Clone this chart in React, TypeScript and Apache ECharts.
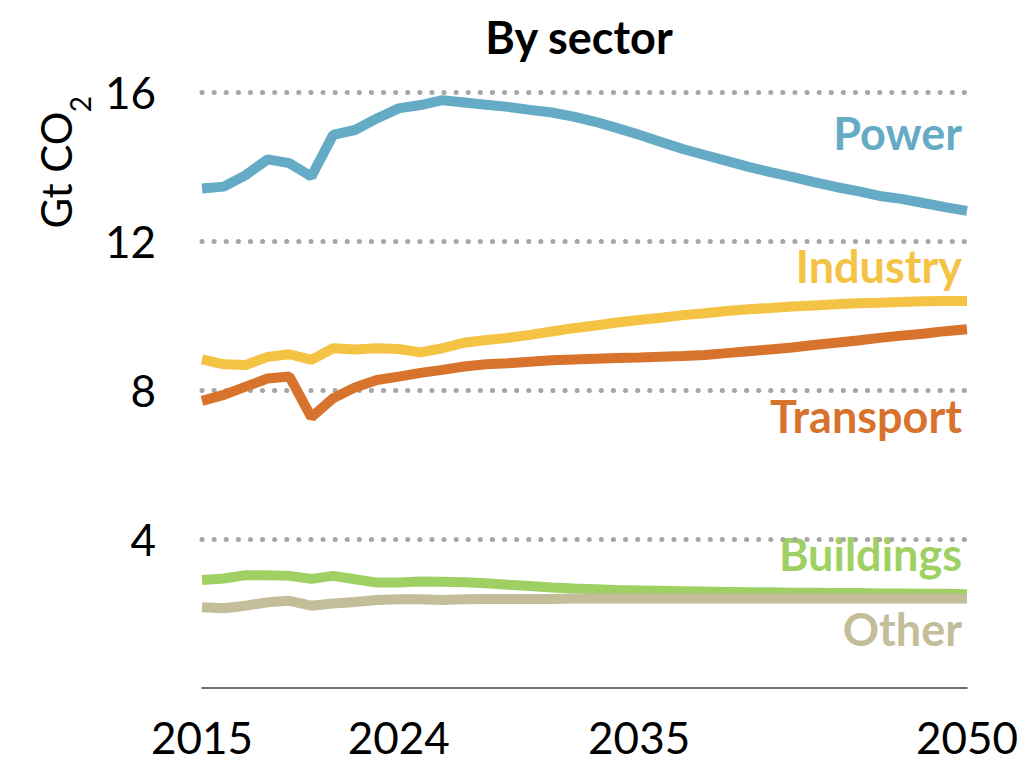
import { useEffect, useRef } from 'react';
import * as echarts from 'echarts';

const years = [
  '2015', '2016', '2017', '2018', '2019', '2020', '2021', '2022', '2023', '2024', '2025', '2026',
  '2027', '2028', '2029', '2030', '2031', '2032', '2033', '2034', '2035', '2036', '2037', '2038',
  '2039', '2040', '2041', '2042', '2043', '2044', '2045', '2046', '2047', '2048', '2049', '2050',
];
const shownYears = ['2015', '2024', '2035', '2050'];
const yTicks = [4, 8, 12, 16];

const power = [
  13.41, 13.46, 13.77, 14.19, 14.09, 13.73, 14.85, 14.98, 15.29, 15.56, 15.65, 15.78,
  15.72, 15.66, 15.6, 15.52, 15.45, 15.34, 15.2, 15.03, 14.85, 14.66, 14.47, 14.31,
  14.15, 13.99, 13.85, 13.72, 13.58, 13.45, 13.34, 13.21, 13.13, 13.02, 12.91, 12.81,
];
const industry = [
  8.82, 8.69, 8.67, 8.89, 8.96, 8.81, 9.12, 9.09, 9.12, 9.1, 9.01, 9.12,
  9.27, 9.34, 9.4, 9.48, 9.57, 9.66, 9.73, 9.81, 9.88, 9.94, 10.01, 10.06,
  10.12, 10.17, 10.2, 10.24, 10.27, 10.3, 10.33, 10.34, 10.36, 10.38, 10.39, 10.39,
];
const transport = [
  7.71, 7.87, 8.09, 8.31, 8.36, 7.27, 7.78, 8.07, 8.27, 8.36, 8.46, 8.54,
  8.63, 8.69, 8.72, 8.76, 8.8, 8.82, 8.84, 8.86, 8.87, 8.89, 8.91, 8.94,
  8.99, 9.04, 9.09, 9.14, 9.21, 9.27, 9.33, 9.4, 9.46, 9.51, 9.58, 9.63,
];
const buildings = [
  2.9, 2.94, 3.03, 3.03, 3.01, 2.93, 3.01, 2.92, 2.83, 2.83, 2.86, 2.85,
  2.84, 2.81, 2.77, 2.74, 2.7, 2.67, 2.65, 2.63, 2.62, 2.61, 2.6, 2.59,
  2.58, 2.57, 2.57, 2.56, 2.56, 2.55, 2.55, 2.54, 2.54, 2.53, 2.53, 2.52,
];
const other = [
  2.17, 2.14, 2.21, 2.3, 2.34, 2.21, 2.27, 2.31, 2.36, 2.38, 2.38, 2.36,
  2.38, 2.39, 2.39, 2.39, 2.39, 2.4, 2.4, 2.4, 2.4, 2.4, 2.4, 2.4,
  2.4, 2.4, 2.4, 2.4, 2.4, 2.4, 2.4, 2.4, 2.4, 2.4, 2.4, 2.4,
];

const sectorNames = ['Power', 'Industry', 'Transport', 'Buildings', 'Other'];
const sectorColors = ['#65ABC6', '#F5C344', '#D8732E', '#9FD064', '#C4BD99'];

export default function App() {
  const ref = useRef<HTMLDivElement>(null);
  useEffect(() => {
    const chart = echarts.init(ref.current!, null, { renderer: 'svg' });
    const FONT = 'Lato';
    const seriesData = [power, industry, transport, buildings, other];
    const labelPos: [number, number][] = [
      [962, 133],
      [962, 266],
      [962, 416],
      [962, 554],
      [962, 629],
    ];
    chart.setOption({
      animation: false,
      grid: { left: 202, right: 57, top: 92, bottom: 75 },
      xAxis: {
        type: 'category',
        data: years,
        boundaryGap: false,
        axisLine: { lineStyle: { color: '#404040', width: 1.5 } },
        axisTick: { show: false },
        splitLine: { show: false },
        axisLabel: {
          interval: (_i: number, v: string) => shownYears.includes(v),
          fontFamily: FONT,
          fontSize: 44,
          lineHeight: 40,
          color: '#000',
          margin: 29,
        },
      },
      yAxis: {
        type: 'value',
        min: 0,
        max: 16,
        interval: 4,
        axisLine: { show: false },
        axisTick: { show: false },
        splitLine: { show: false },
        axisLabel: {
          formatter: (v: number) => (v === 0 ? '' : String(v)),
          fontFamily: FONT,
          fontSize: 44,
          color: '#000',
          margin: 46,
        },
      },
      series: [
        {
          type: 'line',
          data: [],
          silent: true,
          z: 1,
          markLine: {
            silent: true,
            z: 1,
            symbol: 'none',
            label: { show: false },
            lineStyle: { color: '#A6A6A6', width: 5, type: [0.1, 12], cap: 'round' },
            data: yTicks.map((v) => ({ yAxis: v })),
          },
        },
        ...sectorNames.map((name, i) => ({
          type: 'line',
          name,
          data: seriesData[i],
          symbol: 'none',
          z: 3,
          lineStyle: { color: sectorColors[i], width: 10 },
          itemStyle: { color: sectorColors[i] },
        })),
      ],
      graphic: [
        {
          type: 'text',
          x: 579,
          y: 37,
          style: {
            text: 'By sector',
            fontFamily: FONT,
            fontWeight: 'bold',
            fontSize: 45,
            fill: '#000',
            align: 'center',
            verticalAlign: 'middle',
          },
        },
        {
          type: 'text',
          x: 56,
          y: 170,
          rotation: Math.PI / 2,
          style: {
            text: 'Gt CO',
            fontFamily: FONT,
            fontSize: 42,
            fill: '#000',
            align: 'center',
            verticalAlign: 'middle',
          },
        },
        {
          type: 'text',
          x: 80,
          y: 104,
          rotation: Math.PI / 2,
          style: {
            text: '2',
            fontFamily: FONT,
            fontSize: 28,
            fill: '#000',
            align: 'center',
            verticalAlign: 'middle',
          },
        },
        ...sectorNames.map((name, i) => ({
          type: 'text',
          x: labelPos[i][0],
          y: labelPos[i][1],
          style: {
            text: name,
            fontFamily: FONT,
            fontWeight: 'bold',
            fontSize: 45,
            fill: sectorColors[i],
            align: 'right',
            verticalAlign: 'middle',
          },
        })),
      ],
    });
    return () => chart.dispose();
  }, []);
  return (
    <div
      ref={ref}
      style={{ position: 'fixed', left: 0, top: 0, width: 1024, height: 763, background: '#fff' }}
    />
  );
}
